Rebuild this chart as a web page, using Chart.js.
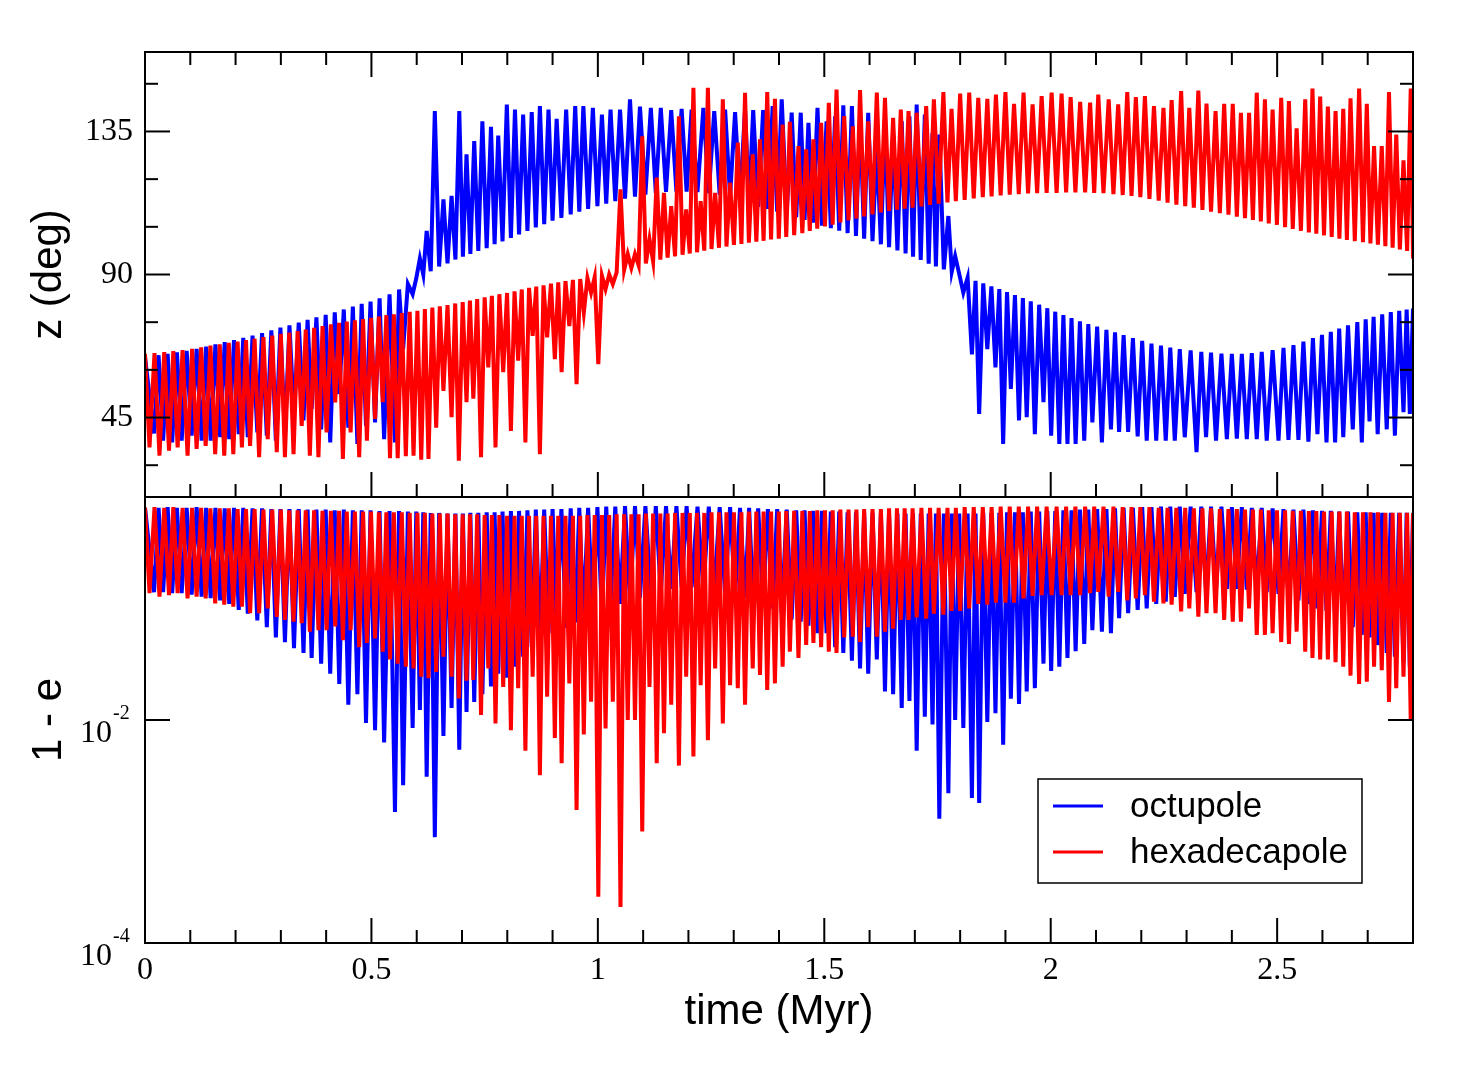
<!DOCTYPE html>
<html>
<head>
<meta charset="utf-8">
<title>octupole vs hexadecapole</title>
<script src="https://cdn.jsdelivr.net/npm/chart.js@4"></script>
<style>
  body { margin: 0; background: #fff; }
  #wrap { position: relative; width: 1464px; height: 1076px; }
  canvas { position: absolute; left: 0; }
</style>
</head>
<body>
<div id="wrap">
  <canvas id="zChart" width="1464" height="498" style="top:0"></canvas>
  <canvas id="eChart" width="1464" height="580" style="top:496px"></canvas>
</div>
<script>
// times (Myr) of each spike
const octT = [
  0.020, 0.040, 0.060, 0.081, 0.103, 0.125, 0.145, 0.166, 0.186, 0.207,
  0.227, 0.248, 0.269, 0.289, 0.309, 0.329, 0.350, 0.368, 0.389, 0.409,
  0.429, 0.449, 0.469, 0.488, 0.508, 0.528, 0.552, 0.570, 0.591, 0.607,
  0.622, 0.640, 0.659, 0.677, 0.694, 0.710, 0.727, 0.745, 0.764, 0.780,
  0.799, 0.817, 0.835, 0.854, 0.872, 0.891, 0.909, 0.930, 0.950, 0.968,
  0.989, 1.009, 1.028, 1.049, 1.071, 1.093, 1.117, 1.139, 1.162, 1.185,
  1.207, 1.233, 1.257, 1.281, 1.303, 1.325, 1.343, 1.365, 1.386, 1.406,
  1.428, 1.448, 1.465, 1.485, 1.505, 1.524, 1.542, 1.561, 1.579, 1.597,
  1.616, 1.634, 1.652, 1.671, 1.688, 1.704, 1.722, 1.739, 1.754, 1.774,
  1.789, 1.807, 1.826, 1.842, 1.860, 1.878, 1.895, 1.912, 1.930, 1.947,
  1.965, 1.984, 2.001, 2.019, 2.037, 2.055, 2.074, 2.092, 2.113, 2.133,
  2.151, 2.171, 2.192, 2.212, 2.233, 2.254, 2.274, 2.296, 2.322, 2.343,
  2.365, 2.389, 2.411, 2.433, 2.455, 2.477, 2.503, 2.525, 2.547, 2.569,
  2.589, 2.609, 2.628, 2.646, 2.667, 2.687, 2.704, 2.722, 2.742, 2.760,
  2.779, 2.793
];
// z (deg) at each spike
const octZSpike = [
  40, 37.7, 37.2, 37.7, 39.3, 37.7, 37.7, 38.8, 38.2, 39.8,
  38.8, 40.3, 39.3, 37.7, 39.3, 45.6, 44.1, 47.7, 41.3, 37.2,
  52.4, 41.8, 36.7, 42.4, 43.5, 38.2, 37.2, 66.5, 83.8, 95,
  103.7, 141.4, 113.6, 114.7, 141.4, 127.8, 132, 138.2, 136.5, 133.7,
  143.5, 141.9, 140.3, 141.1, 143, 141.9, 139, 141.9, 143, 143,
  142.4, 140.3, 141.9, 141.9, 145.1, 142.8, 142.4, 142.4, 141.7, 142.1,
  141.9, 142.4, 141.4, 141.9, 141.1, 141.9, 141.7, 141.7, 143, 145.1,
  140.9, 140.9, 137.7, 142.4, 138.2, 139.8, 143.2, 143, 139.8, 140.9,
  130.4, 138.2, 134.5, 138.2, 139.8, 143.5, 140.3, 134.5, 134, 108.4,
  95.8, 84.3, 64.9, 46.1, 66.5, 60.8, 36.7, 54, 44.1, 45.1,
  39.8, 49.8, 39.3, 36.7, 36.7, 36.7, 37.7, 43.5, 37.2, 41.3,
  40.5, 40.5, 39.1, 37.7, 37.7, 37.7, 37.7, 38.8, 34.1, 38.8,
  37.7, 38.2, 38.4, 38.2, 38.2, 37.7, 37.7, 38, 38, 37.4,
  39.8, 37.2, 37.2, 38.8, 41.3, 37.2, 43.8, 39.8, 41.3, 39.3,
  46.7, 46.1
];
// z (deg) on the smooth side: start, then between spikes, then end
const octZBase = [
  64,
  64.6, 65, 65.5, 66, 66.6, 67.3, 68, 68.7, 69.4, 70.1,
  70.8, 71.6, 72.4, 73.3, 74, 74.9, 75.7, 76.5, 77.3, 78.1,
  79, 79.9, 80.8, 81.5, 82.5, 83.8, 85.3, 87, 88.8, 90,
  91, 92.5, 93.5, 94.7, 95.6, 96.5, 97.4, 98.3, 99.5, 100.4,
  101.5, 102.6, 103.7, 104.8, 105.8, 106.9, 107.8, 108.9, 109.8, 110.6,
  111.5, 112.3, 113.1, 113.9, 114.5, 115.1, 115.6, 116, 116.1, 116.1,
  115.9, 115.6, 115.1, 114.5, 113.8, 112.5, 111.3, 110.6, 109.8, 109,
  108, 107.2, 106.3, 105.4, 104.6, 103.8, 103, 102.1, 101.3, 100.5,
  99.5, 98.6, 97.6, 96.6, 95.6, 94.6, 93.4, 92.5, 91.6, 90.9,
  90.1, 89, 88, 87.2, 86.3, 85.4, 84.5, 83.5, 82.6, 81.6,
  80.5, 79.4, 78.3, 77.2, 76.3, 75.3, 74.4, 73.6, 72.6, 71.8,
  70.9, 70, 69.1, 68.3, 67.6, 67, 66.5, 66.1, 65.7, 65.4,
  65.1, 65, 65, 65.3, 65.7, 66.2, 66.9, 67.8, 68.9, 70,
  71, 72, 73, 74, 75, 75.9, 76.7, 77.5, 78.2, 78.6,
  79, 79.3
];
// 1 - e at each spike
const octESpike = [
  0.14, 0.14, 0.137, 0.137, 0.133, 0.128, 0.124, 0.118, 0.11, 0.097,
  0.09, 0.078, 0.068, 0.055, 0.05, 0.044, 0.04, 0.036, 0.032, 0.026,
  0.021, 0.0137, 0.017, 0.0094, 0.0081, 0.0063, 0.0015, 0.0026, 0.0085, 0.0123,
  0.0031, 0.00089, 0.0072, 0.0128, 0.0054, 0.0118, 0.0145, 0.017, 0.02, 0.026,
  0.024, 0.03, 0.037, 0.045, 0.052, 0.06, 0.066, 0.067, 0.075, 0.085,
  0.091, 0.09, 0.107, 0.11, 0.115, 0.125, 0.14, 0.14, 0.15, 0.155,
  0.155, 0.15, 0.145, 0.137, 0.13, 0.125, 0.118, 0.112, 0.1, 0.09,
  0.08, 0.076, 0.07, 0.06, 0.06, 0.045, 0.04, 0.034, 0.029, 0.026,
  0.035, 0.018, 0.017, 0.0128, 0.0148, 0.0053, 0.0107, 0.0091, 0.0013, 0.0022,
  0.01, 0.0085, 0.002, 0.0018, 0.0096, 0.0115, 0.006, 0.0155, 0.0139, 0.018,
  0.0193, 0.032, 0.0275, 0.03, 0.036, 0.0415, 0.048, 0.064, 0.062, 0.06,
  0.082, 0.091, 0.097, 0.1, 0.11, 0.115, 0.127, 0.135, 0.14, 0.145,
  0.15, 0.15, 0.15, 0.148, 0.145, 0.14, 0.135, 0.125, 0.118, 0.11,
  0.1, 0.095, 0.085, 0.076, 0.068, 0.058, 0.055, 0.047, 0.04, 0.037,
  0.033, 0.03
];
// 1 - e on the smooth side
const octETop = [
  0.8,
  0.8, 0.81, 0.8, 0.8, 0.81, 0.8, 0.8, 0.79, 0.8, 0.8, 0.79, 0.79, 0.78, 0.78, 0.78,
  0.78, 0.77, 0.77, 0.77, 0.76, 0.77, 0.76, 0.76, 0.76, 0.75, 0.75, 0.75, 0.74, 0.74,
  0.73, 0.72, 0.72, 0.71, 0.71, 0.71, 0.72, 0.72, 0.73, 0.73, 0.74,
  0.75, 0.75, 0.76, 0.77, 0.77, 0.78, 0.78, 0.79, 0.8, 0.8, 0.81,
  0.82, 0.82, 0.83, 0.83, 0.83, 0.83, 0.83, 0.83, 0.83, 0.82, 0.82, 0.81, 0.81, 0.8, 0.8,
  0.79, 0.78, 0.78, 0.77, 0.76, 0.76, 0.75, 0.75, 0.74, 0.74, 0.73, 0.73, 0.72, 0.72,
  0.72, 0.71, 0.71, 0.71, 0.71, 0.71, 0.71, 0.71, 0.71, 0.71, 0.71, 0.71, 0.71, 0.72,
  0.72, 0.72, 0.73, 0.73, 0.73, 0.74, 0.74, 0.75, 0.75, 0.76,
  0.76, 0.77, 0.77, 0.78, 0.78, 0.79, 0.8, 0.8, 0.81, 0.81, 0.82, 0.82, 0.82, 0.82,
  0.82, 0.82, 0.82, 0.81, 0.81, 0.8, 0.8,
  0.79, 0.78, 0.77, 0.77, 0.76, 0.75, 0.75, 0.74, 0.74, 0.73, 0.73, 0.72, 0.72, 0.72,
  0.72, 0.72, 0.72
];

const hexT = [
  0.010, 0.032, 0.053, 0.072, 0.094, 0.114, 0.134, 0.155, 0.175, 0.195,
  0.214, 0.232, 0.252, 0.271, 0.291, 0.309, 0.328, 0.346, 0.364, 0.383,
  0.401, 0.420, 0.437, 0.454, 0.473, 0.490, 0.508, 0.525, 0.541, 0.558,
  0.576, 0.593, 0.610, 0.626, 0.643, 0.659, 0.677, 0.693, 0.710, 0.725,
  0.742, 0.758, 0.774, 0.791, 0.808, 0.824, 0.840, 0.856, 0.872, 0.888,
  0.905, 0.920, 0.937, 0.953, 0.969, 0.985, 1.001, 1.017, 1.033, 1.050,
  1.066, 1.082, 1.098, 1.114, 1.130, 1.146, 1.162, 1.179, 1.195, 1.211,
  1.227, 1.243, 1.259, 1.276, 1.292, 1.309, 1.325, 1.342, 1.358, 1.374,
  1.391, 1.408, 1.424, 1.443, 1.460, 1.476, 1.493, 1.510, 1.527, 1.544,
  1.563, 1.579, 1.597, 1.616, 1.634, 1.652, 1.669, 1.686, 1.704, 1.725,
  1.742, 1.763, 1.781, 1.800, 1.820, 1.840, 1.860, 1.879, 1.900, 1.919,
  1.940, 1.960, 1.980, 2.002, 2.024, 2.044, 2.065, 2.087, 2.105, 2.128,
  2.149, 2.169, 2.188, 2.208, 2.228, 2.249, 2.267, 2.288, 2.306, 2.326,
  2.344, 2.364, 2.383, 2.402, 2.420, 2.438, 2.455, 2.473, 2.490, 2.509,
  2.526, 2.543, 2.562, 2.578, 2.595, 2.612, 2.629, 2.646, 2.662, 2.681,
  2.698, 2.714, 2.731, 2.747, 2.763, 2.779, 2.795
];
const hexZSpike = [
  35.6, 33, 34.6, 35.6, 33, 35.1, 36.1, 33.5, 33, 33.5,
  35.6, 36.1, 32.5, 38.2, 34.1, 32.5, 33.5, 42.4, 33, 32.5,
  40.3, 49.8, 32, 40.3, 32.5, 37.7, 44.6, 49.8, 32.2, 32.2,
  32.8, 33, 31.7, 32, 41.8, 53.4, 45.1, 31.4, 49.8, 50.9,
  32.5, 60.8, 35.6, 59.3, 40.8, 62.9, 37.2, 70.7, 33.5, 70.2,
  63.4, 59.3, 73.8, 55.5, 78, 84.3, 61.8, 85.4, 87, 116.8,
  96.4, 96.4, 133.5, 101.1, 120.5, 115.7, 111.5, 139.8, 110.5, 148.7,
  113.1, 148.7, 115.7, 145.1, 118.9, 131.5, 147.2, 127.8, 132.5, 147.4,
  145.3, 137.2, 138, 130.4, 129.4, 132.5, 137.7, 144, 148.2, 139.8,
  136.6, 148, 138.2, 147.2, 145.6, 139.3, 141.9, 141.4, 140.9, 143,
  145.1, 147.4, 142.1, 146.9, 147.2, 145.6, 145.3, 146.6, 147.4, 143.7,
  147.2, 143.5, 146.1, 147.2, 146.9, 145.8, 144.3, 144.1, 146.6, 145.1,
  143.5, 147.4, 145.8, 146.1, 143, 142.4, 144.9, 147.7, 142.4, 147.9,
  143.8, 141.4, 143.7, 143.7, 140.9, 140.9, 147.2, 145.1, 141.9, 145.6,
  144.6, 136, 145.1, 148.5, 146, 142.8, 141.4, 142.1, 145.4, 148.5,
  143.7, 130.4, 130.4, 147.4, 134, 125.9, 148.5
];
const hexZBase = [
  65,
  65.3, 65.6, 65.9, 66.2, 66.6, 67.1, 67.6, 68, 68.5, 68.9,
  69.4, 69.8, 70.3, 70.8, 71.3, 71.7, 72.2, 72.7, 73.2, 73.8,
  74.3, 74.8, 75.2, 75.6, 76, 76.4, 76.8, 77.2, 77.5, 77.9,
  78.3, 78.6, 79.1, 79.6, 80, 80.4, 80.9, 81.3, 81.8, 82.3,
  82.8, 83.3, 83.8, 84.2, 84.7, 85.3, 85.8, 86.2, 86.6, 87.1,
  87.5, 87.9, 88.3, 88.6, 88.9, 89.2, 89.6, 90, 90.7, 91.4,
  92.1, 92.9, 93.5, 94.1, 94.7, 95.3, 95.7, 96.2, 96.6, 97,
  97.5, 98, 98.4, 98.8, 99.3, 99.6, 100, 100.3, 100.6, 101,
  101.3, 101.8, 102.4, 103, 103.7, 104.4, 105.1, 105.7, 106.4, 107,
  107.6, 108.3, 108.9, 109.5, 110, 110.4, 110.7, 111, 111.4, 111.9,
  112.3, 112.7, 113.1, 113.5, 113.9, 114.3, 114.6, 114.9, 115.1, 115.3,
  115.5, 115.6, 115.7, 115.7, 115.8, 115.8, 115.8, 115.7, 115.6, 115.3,
  115, 114.7, 114.3, 113.8, 113.2, 112.6, 112, 111.5, 111, 110.3,
  109.8, 109.3, 108.8, 108.2, 107.7, 107.2, 106.7, 106.1, 105.6, 104.9,
  104.3, 103.7, 103.2, 102.8, 102.3, 101.8, 101.3, 100.9, 100.5, 100.2,
  99.8, 99.4, 98.9, 98.4, 97.9, 97.4, 95
];
const hexESpike = [
  0.137, 0.128, 0.132, 0.137, 0.123, 0.128, 0.123, 0.111, 0.108, 0.104,
  0.104, 0.091, 0.091, 0.1, 0.084, 0.079, 0.076, 0.074, 0.062, 0.064,
  0.064, 0.069, 0.052, 0.064, 0.045, 0.049, 0.054, 0.041, 0.035, 0.032,
  0.03, 0.029, 0.0245, 0.0237, 0.027, 0.037, 0.0245, 0.0156, 0.0225, 0.0229,
  0.0111, 0.029, 0.0093, 0.0198, 0.0081, 0.0193, 0.0053, 0.0245, 0.0032, 0.0162,
  0.0069, 0.0041, 0.0213, 0.00156, 0.0074, 0.0146, 0.00026, 0.0084, 0.0146, 0.00021,
  0.01, 0.01, 0.001, 0.0198, 0.0041, 0.0076, 0.0137, 0.0039, 0.0245, 0.0047,
  0.0205, 0.0066, 0.029, 0.0093, 0.0205, 0.0193, 0.0137, 0.029, 0.0253, 0.0186,
  0.0213, 0.03, 0.041, 0.036, 0.047, 0.049, 0.045, 0.041, 0.04, 0.055,
  0.056, 0.05, 0.068, 0.056, 0.062, 0.066, 0.079, 0.079, 0.083, 0.081,
  0.09, 0.088, 0.095, 0.095, 0.1, 0.11, 0.108, 0.113, 0.113, 0.113,
  0.123, 0.13, 0.132, 0.132, 0.132, 0.132, 0.132, 0.137, 0.141, 0.128,
  0.141, 0.118, 0.123, 0.132, 0.115, 0.111, 0.108, 0.094, 0.1, 0.0845,
  0.0906, 0.0906, 0.079, 0.076, 0.076, 0.1, 0.058, 0.058, 0.06, 0.05,
  0.048, 0.062, 0.041, 0.036, 0.035, 0.035, 0.033, 0.03, 0.025, 0.021,
  0.022, 0.03, 0.028, 0.0145, 0.0193, 0.0245, 0.01
];
const hexETop = [
  0.8,
  0.81, 0.8, 0.81, 0.8, 0.8, 0.8, 0.79, 0.79, 0.79, 0.78, 0.78, 0.78, 0.77, 0.77, 0.77, 0.76, 0.76, 0.76, 0.76, 0.75,
  0.75, 0.75, 0.74, 0.74, 0.74, 0.74, 0.73, 0.73, 0.73, 0.73, 0.72, 0.72, 0.72, 0.71, 0.71, 0.71, 0.7, 0.7, 0.7, 0.7,
  0.69, 0.69, 0.69, 0.68, 0.68, 0.68, 0.68, 0.68, 0.68, 0.68, 0.68, 0.68, 0.68, 0.68, 0.69,
  0.69, 0.69, 0.69, 0.7, 0.7, 0.7, 0.7, 0.71, 0.71, 0.71, 0.71, 0.72, 0.72, 0.72, 0.72,
  0.72, 0.73, 0.73, 0.73, 0.73, 0.73, 0.74, 0.74, 0.74, 0.74, 0.74, 0.75, 0.75, 0.75, 0.75,
  0.76, 0.76, 0.76, 0.77, 0.77, 0.77, 0.78, 0.78, 0.78, 0.79, 0.79, 0.79, 0.79, 0.8, 0.8,
  0.8, 0.8, 0.8, 0.81, 0.81, 0.81, 0.81, 0.82, 0.82, 0.82, 0.82, 0.82, 0.82, 0.82, 0.82,
  0.82, 0.82, 0.82, 0.82, 0.82, 0.81, 0.81, 0.81, 0.81, 0.8, 0.8, 0.8, 0.8, 0.79, 0.79,
  0.79, 0.78, 0.78, 0.78, 0.77, 0.77, 0.77, 0.76, 0.76, 0.76, 0.75, 0.75, 0.75, 0.75,
  0.74, 0.74, 0.74, 0.74, 0.73, 0.73, 0.73, 0.73, 0.72, 0.72, 0.72, 0.72, 0.72
];

const timeTicks = [0, 0.5, 1, 1.5, 2, 2.5];
const zTicks = [45, 90, 135];
const zMinorTicks = [30, 60, 75, 105, 120, 150];
const eTicks = [1e-2, 1e-4];
const eTickExp = ['-2', '-4'];
const seriesNames = ['octupole', 'hexadecapole'];
const seriesColors = ['#0000ff', '#ff0000'];

const serif = 'Liberation Serif';
const sans = 'Liberation Sans';

// spike, then smooth side halfway to the next spike
function zigzag(times, spikes, base) {
  const pts = [{ x: 0, y: base[0] }];
  for (let i = 0; i < times.length; i++) {
    pts.push({ x: times[i], y: spikes[i] });
    const nx = i + 1 < times.length ? (times[i] + times[i + 1]) / 2 : 2.8;
    pts.push({ x: nx, y: base[i + 1] });
  }
  return pts;
}

function seg(ctx, x1, y1, x2, y2) {
  ctx.beginPath();
  ctx.moveTo(x1, y1);
  ctx.lineTo(x2, y2);
  ctx.stroke();
}

// fixed axis box, no extra label padding
function fixWidth(s) {
  s.width = 145;
  s.paddingTop = 0;
  s.paddingBottom = 0;
}

const framePlugin = {
  id: 'frame',
  afterDatasetsDraw(chart, args, o) {
    const { ctx, chartArea: a, scales } = chart;
    ctx.save();
    ctx.strokeStyle = '#000';
    ctx.lineWidth = 2;
    ctx.strokeRect(a.left, a.top, a.right - a.left, a.bottom - a.top);
    for (let k = 1; k < 28; k++) {
      const px = scales.x.getPixelForValue(k / 10);
      const len = k % 5 === 0 ? 25 : 13;
      if (o.xTop) seg(ctx, px, a.top, px, a.top + len);
      seg(ctx, px, a.bottom, px, a.bottom - len);
    }
    o.yMajor.forEach(v => {
      const py = scales.y.getPixelForValue(v);
      seg(ctx, a.left, py, a.left + 25, py);
      seg(ctx, a.right, py, a.right - 25, py);
    });
    o.yMinor.forEach(v => {
      const py = scales.y.getPixelForValue(v);
      seg(ctx, a.left, py, a.left + 13, py);
      seg(ctx, a.right, py, a.right - 13, py);
    });
    if (o.logLabels) {
      ctx.fillStyle = '#000';
      eTicks.forEach((v, i) => {
        const py = scales.y.getPixelForValue(v);
        ctx.font = '32px "' + serif + '"';
        ctx.textAlign = 'right';
        ctx.textBaseline = 'alphabetic';
        ctx.fillText('10', a.left - 33, py + 22);
        ctx.font = '20px "' + serif + '"';
        ctx.textAlign = 'left';
        ctx.fillText(eTickExp[i], a.left - 32, py - 1);
      });
    }
    if (o.legend) {
      const bx = a.right - 375, by = a.bottom - 164;
      ctx.lineWidth = 1.5;
      ctx.strokeRect(bx, by, 324, 104);
      ctx.font = '35px "' + sans + '"';
      ctx.textAlign = 'left';
      ctx.textBaseline = 'middle';
      seriesNames.forEach((name, i) => {
        const ly = by + 27 + i * 46;
        ctx.strokeStyle = seriesColors[i];
        ctx.lineWidth = 3;
        seg(ctx, bx + 15, ly, bx + 65, ly);
        ctx.fillStyle = '#000';
        ctx.fillText(name, bx + 92, ly + 1);
      });
    }
    ctx.restore();
  }
};

function lineSet(i, data) {
  return {
    label: seriesNames[i], data,
    borderColor: seriesColors[i], borderWidth: 4,
    pointRadius: 0, tension: 0, fill: false,
    order: i === 1 ? 0 : 1
  };
}

const common = {
  animation: false,
  responsive: false,
  events: [],
  plugins: { legend: { display: false }, tooltip: { enabled: false } }
};

new Chart(document.getElementById('zChart'), {
  type: 'line',
  data: {
    datasets: [
      lineSet(0, zigzag(octT, octZSpike, octZBase)),
      lineSet(1, zigzag(hexT, hexZSpike, hexZBase))
    ]
  },
  options: {
    ...common,
    layout: { padding: { top: 52, right: 51, bottom: 1, left: 0 } },
    plugins: { ...common.plugins, frame: { xTop: true, yMajor: zTicks, yMinor: zMinorTicks } },
    scales: {
      x: { type: 'linear', min: 0, max: 2.8, display: false },
      y: {
        type: 'linear', min: 20, max: 160,
        afterFit: fixWidth,
        afterBuildTicks: s => { s.ticks = zTicks.map(v => ({ value: v })); },
        grid: { display: false, drawTicks: false },
        border: { display: false },
        ticks: { padding: 12, color: '#000', font: { family: serif, size: 32 }, callback: v => String(v) },
        title: { display: true, text: 'z (deg)', color: '#000', font: { family: sans, size: 42 }, padding: { top: 24, bottom: 0 } }
      }
    }
  },
  plugins: [framePlugin]
});

new Chart(document.getElementById('eChart'), {
  type: 'line',
  data: {
    datasets: [
      lineSet(0, zigzag(octT, octESpike, octETop)),
      lineSet(1, zigzag(hexT, hexESpike, hexETop))
    ]
  },
  options: {
    ...common,
    layout: { padding: { top: 1, right: 51, bottom: 0, left: 0 } },
    plugins: { ...common.plugins, frame: { xTop: false, yMajor: [1e-2], yMinor: [], logLabels: true, legend: true } },
    scales: {
      x: {
        type: 'linear', min: 0, max: 2.8,
        afterFit: s => { s.height = 133; },
        afterBuildTicks: s => { s.ticks = timeTicks.map(v => ({ value: v })); },
        grid: { display: false, drawTicks: false },
        border: { display: false },
        ticks: { padding: 8, maxRotation: 0, autoSkip: false, color: '#000', font: { family: serif, size: 32 }, callback: v => String(v) },
        title: { display: true, text: 'time (Myr)', color: '#000', font: { family: sans, size: 42 }, padding: { top: 0, bottom: 38 } }
      },
      y: {
        type: 'logarithmic', min: 1e-4, max: 1,
        afterFit: fixWidth,
        grid: { display: false, drawTicks: false },
        border: { display: false },
        ticks: { display: false },
        title: { display: true, text: '1 - e', color: '#000', font: { family: sans, size: 42 }, padding: { top: 24, bottom: 0 } }
      }
    }
  },
  plugins: [framePlugin]
});
</script>
</body>
</html>
